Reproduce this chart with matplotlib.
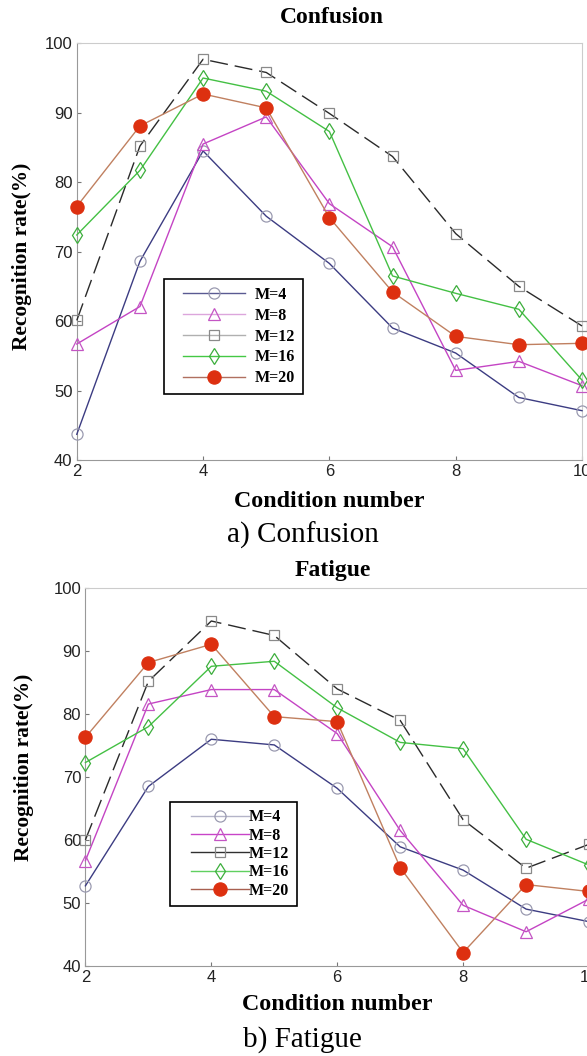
"""Recognition rate vs condition number, confusion and fatigue panels."""

import matplotlib
matplotlib.use('Agg')
import matplotlib.pyplot as plt
from matplotlib.lines import Line2D
from matplotlib.legend_handler import HandlerLine2D

cond = [2, 3, 4, 5, 6, 7, 8, 9, 10]
labels = ['M=4', 'M=8', 'M=12', 'M=16', 'M=20']

conf_m4 = [43.7, 68.6, 84.5, 75.1, 68.3, 59.0, 55.4, 49.0, 47.1]
conf_m8 = [56.7, 62.1, 85.5, 89.4, 76.9, 70.7, 52.9, 54.2, 50.7]
conf_m12 = [60.1, 85.2, 97.7, 95.8, 89.9, 83.7, 72.6, 65.0, 59.3]
conf_m16 = [72.4, 81.7, 95.0, 93.1, 87.3, 66.5, 64.0, 61.7, 51.5]
conf_m20 = [76.5, 88.1, 92.7, 90.7, 74.9, 64.2, 57.8, 56.6, 56.8]

fat_m4 = [52.7, 68.5, 76.0, 75.1, 68.2, 58.9, 55.2, 49.0, 47.0]
fat_m8 = [56.7, 81.6, 83.9, 83.9, 76.9, 61.5, 49.6, 45.4, 50.6]
fat_m12 = [60.0, 85.2, 94.8, 92.5, 84.0, 79.0, 63.2, 55.5, 59.3]
fat_m16 = [72.3, 78.0, 87.6, 88.4, 81.0, 75.5, 74.5, 60.1, 56.0]
fat_m20 = [76.3, 88.2, 91.1, 79.6, 78.8, 55.6, 42.1, 52.9, 51.8]

serif = 'Liberation Serif'
sans = 'Liberation Sans'

# line colour, marker, marker size, marker face, marker edge, linestyle
styles = [
    dict(color='#3c3c82', marker='o', ms=8, mfc='none', mec='#9a9ab0', ls='-'),
    dict(color='#c444c4', marker='^', ms=9, mfc='none', mec='#c455c4', ls='-'),
    dict(color='#2a2a2a', marker='s', ms=7, mfc='none', mec='#8a8a8a',
         ls=(0, (13, 5))),
    dict(color='#44c044', marker='d', ms=8, mfc='none', mec='#3cae3c', ls='-'),
    dict(color='#c08060', marker='o', ms=9.5, mfc='#dd3010', mec='#dd3010', ls='-'),
]
leg_a = ['#5a5a92', '#dca6dc', '#b0b0b0', '#44c844', '#b07060']
leg_b = ['#b4b4c8', '#c844c8', '#303030', '#60d060', '#a86050']

fig = plt.figure(figsize=(5.87, 10.56), dpi=100)
ax_a = fig.add_axes([0.1308, 0.5644, 0.8607, 0.3946])
ax_b = fig.add_axes([0.1455, 0.0855, 0.858, 0.3574])


def draw(ax, series, leg_colors, leg_pos, leg_opts, xpad):
    for ys, st in zip(series, styles):
        ax.plot(cond, ys, color=st['color'], ls=st['ls'], lw=1.0,
                marker=st['marker'], ms=st['ms'], mfc=st['mfc'],
                mec=st['mec'], mew=0.9, clip_on=False, zorder=3)
    ax.set_xlim(2, 10)
    ax.set_ylim(40, 100)
    ax.set_xticks([2, 4, 6, 8, 10])
    ax.set_yticks([40, 50, 60, 70, 80, 90, 100])
    ax.tick_params(direction='in', length=3, width=0.8, color='#777777',
                   labelsize=12, pad=3)
    for lab in ax.get_xticklabels() + ax.get_yticklabels():
        lab.set_fontfamily(sans)
        lab.set_color('#222222')
    for side in ['left', 'bottom']:
        ax.spines[side].set_color('#999999')
    for side in ['top', 'right']:
        ax.spines[side].set_color('#cccccc')
    handles = [Line2D([], [], color=c, lw=1.0, marker=st['marker'],
                      ms=st['ms'], mfc=st['mfc'], mec=st['mec'], mew=0.9)
               for c, st in zip(leg_colors, styles)]
    leg = ax.legend(handles, labels, loc='upper left',
                    bbox_to_anchor=leg_pos, borderaxespad=0, frameon=True,
                    fancybox=False, edgecolor='black', framealpha=1,
                    handler_map={Line2D: HandlerLine2D(xpad=xpad)},
                    prop=dict(family=serif, weight='bold', size=11.5),
                    **leg_opts)
    leg.get_frame().set_linewidth(1.2)
    leg.set_zorder(5)


draw(ax_a, [conf_m4, conf_m8, conf_m12, conf_m16, conf_m20], leg_a,
     (0.1718, 0.4344),
     dict(handlelength=4.6, handletextpad=0.6, labelspacing=0.3,
          borderpad=0.5), 0.74)
draw(ax_b, [fat_m4, fat_m8, fat_m12, fat_m16, fat_m20], leg_b,
     (0.168, 0.4338),
     dict(handlelength=4.5, handletextpad=0.0, labelspacing=0.15,
          borderpad=0.45), 0.85)

bold = dict(family=serif, weight='bold', ha='center', va='center')
fig.text(0.566, 0.983, 'Confusion', size=17, **bold)
fig.text(0.567, 0.4602, 'Fatigue', size=17, **bold)
fig.text(0.5605, 0.5249, 'Condition number', size=17.3, **bold)
fig.text(0.574, 0.0483, 'Condition number', size=17.3, **bold)
fig.text(0.038, 0.7576, 'Recognition rate(%)', size=15.4, rotation=90, **bold)
fig.text(0.041, 0.2737, 'Recognition rate(%)', size=15.4, rotation=90, **bold)
fig.text(0.516, 0.4934, 'a) Confusion', size=21, family=serif,
         ha='center', va='center')
fig.text(0.516, 0.0152, 'b) Fatigue', size=21, family=serif,
         ha='center', va='center')

plt.savefig('out.png', dpi=100)
